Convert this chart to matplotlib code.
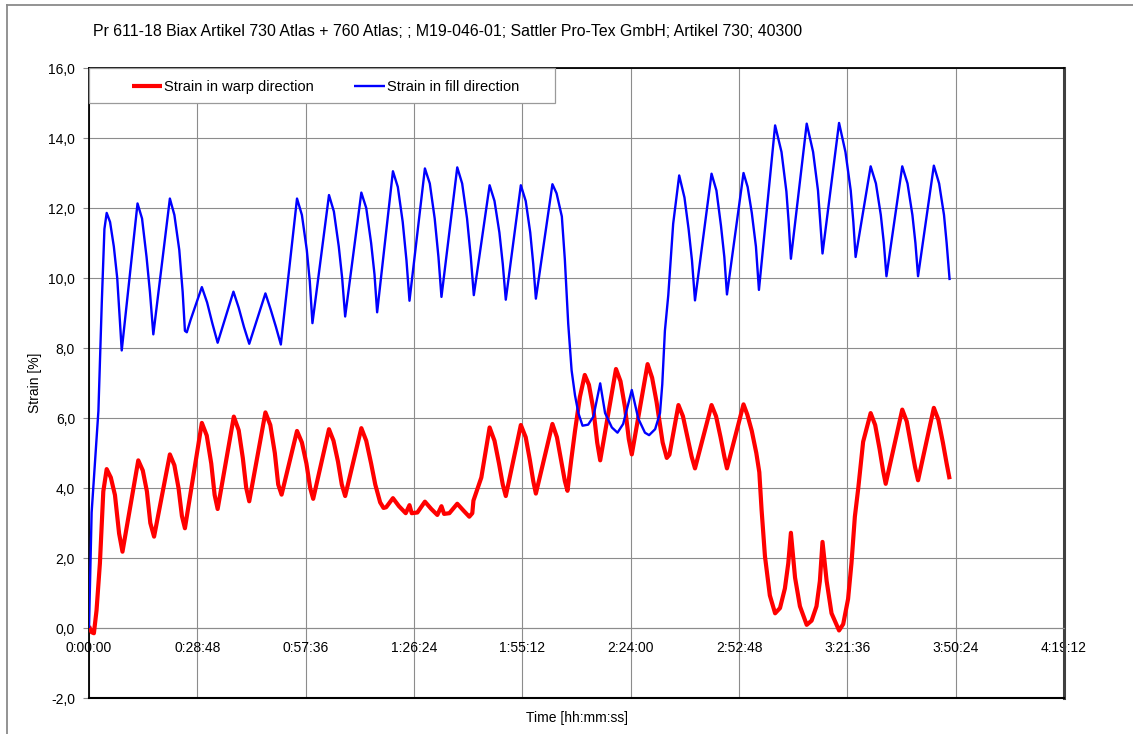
import matplotlib
matplotlib.use("Agg")
import matplotlib.pyplot as plt
from matplotlib.lines import Line2D
from matplotlib.patches import Rectangle

plt.rcParams['font.family'] = ['Liberation Sans', 'DejaVu Sans']

# ---------------- data (time in minutes, strain in %) ----------------
warp_time = [0.0, 0.7, 1.3, 2.0, 2.9, 3.8, 4.7, 5.8, 6.9, 8.0, 8.9,
             13.1, 14.3, 15.4, 16.3, 17.3, 21.5, 22.7, 23.8, 24.7, 25.5,
             30.0, 31.3, 32.5, 33.4, 34.2, 38.5, 39.8, 40.9, 41.8, 42.6,
             46.9, 48.2, 49.4, 50.3, 51.2, 55.3, 56.6, 57.8, 58.8, 59.6,
             63.8, 65.0, 66.2, 67.2, 68.1, 72.4, 73.7, 75.0, 76.1, 77.4, 78.3, 79.0,
             80.8, 82.4, 84.2, 85.2, 85.8, 87.3, 89.3, 91.0, 92.6, 93.7, 94.4, 95.8,
             97.9, 99.6, 101.1, 101.9, 102.2, 104.3, 106.5, 107.8, 109.0, 110.0, 110.8,
             114.8, 116.1, 117.2, 118.1, 118.8, 123.2, 124.4, 125.5, 126.5, 127.2,
             128.2, 129.2, 130.5, 131.8, 132.9, 134.1, 135.1, 135.9,
             140.1, 141.3, 142.5, 143.5, 144.3, 148.5, 149.7, 150.9, 152.5, 153.6, 154.3,
             156.7, 157.9, 159.1, 160.2, 161.1, 165.5, 166.7, 167.9, 168.9, 169.6,
             174.0, 175.0, 176.2, 177.4, 178.2, 178.8, 179.7, 181.0, 182.4,
             183.7, 185.0, 185.9, 186.6, 187.7, 189.0, 190.8,
             192.1, 193.4, 194.3, 195.0, 196.1, 197.4, 199.4,
             200.5, 201.8, 202.7, 203.6, 204.5, 205.8, 207.8,
             209.0, 210.2, 211.1, 211.8, 216.2, 217.4, 218.6, 219.6, 220.4,
             224.6, 225.8, 227.0, 228.0, 228.8]
warp_strain = [0.05, -0.12, -0.15, 0.5, 1.85, 3.9, 4.54, 4.3, 3.8, 2.7, 2.18,
               4.79, 4.5, 3.9, 3.0, 2.61, 4.96, 4.65, 4.0, 3.2, 2.85,
               5.86, 5.5, 4.7, 3.8, 3.40, 6.04, 5.65, 4.85, 4.0, 3.62,
               6.16, 5.8, 5.0, 4.1, 3.81, 5.63, 5.3, 4.7, 4.0, 3.69,
               5.68, 5.35, 4.75, 4.1, 3.77, 5.71, 5.35, 4.7, 4.1, 3.59, 3.43, 3.45,
               3.71, 3.48, 3.28, 3.51, 3.28, 3.30, 3.61, 3.40, 3.23, 3.48, 3.26, 3.28,
               3.55, 3.35, 3.18, 3.28, 3.64, 4.30, 5.73, 5.35, 4.7, 4.1, 3.77,
               5.80, 5.45, 4.8, 4.2, 3.84, 5.83, 5.45, 4.8, 4.2, 3.92,
               4.8, 5.63, 6.6, 7.23, 6.95, 6.24, 5.3, 4.79,
               7.40, 7.05, 6.3, 5.4, 4.96, 7.54, 7.15, 6.45, 5.3, 4.86, 4.95,
               6.37, 6.05, 5.45, 4.9, 4.56, 6.37, 6.05, 5.45, 4.9, 4.56,
               6.39, 6.1, 5.63, 5.0, 4.45, 3.38, 2.05, 0.93, 0.42,
               0.57, 1.13, 1.85, 2.72, 1.44, 0.62, 0.09,
               0.21, 0.62, 1.34, 2.46, 1.34, 0.42, -0.07,
               0.11, 0.83, 1.85, 3.18, 3.99, 5.32, 6.14,
               5.8, 5.1, 4.5, 4.12, 6.24, 5.9, 5.2, 4.6, 4.22,
               6.29, 5.95, 5.3, 4.7, 4.25]

fill_time = [0.0, 0.7, 2.5, 3.4, 4.1, 4.7, 5.6, 6.6, 7.5, 8.7,
             12.9, 14.1, 15.3, 16.2, 17.1, 21.5, 22.7, 24.0, 24.9, 25.5, 26.0, 27.0,
             30.0, 31.4, 32.8, 34.2, 38.4, 39.8, 41.2, 42.6, 46.9, 48.3, 49.7, 51.0,
             55.3, 56.6, 57.9, 58.7, 59.4, 63.8, 65.1, 66.4, 67.3, 68.1,
             72.4, 73.7, 75.0, 75.9, 76.6, 80.8, 82.1, 83.4, 84.4, 85.2,
             89.3, 90.6, 91.9, 92.9, 93.7, 97.9, 99.2, 100.5, 101.5, 102.3,
             106.5, 107.8, 109.1, 110.0, 110.8, 114.8, 116.1, 117.3, 118.1, 118.8,
             123.2, 124.3, 125.7, 126.5, 127.4, 128.3, 129.2, 130.1, 131.2,
             132.7, 134.1, 135.9, 137.2, 139.0, 140.5, 142.0, 144.3,
             146.0, 147.8, 148.9, 150.5, 151.8, 152.4, 153.1, 154.0, 155.3, 156.9,
             158.3, 159.4, 160.3, 161.1, 165.5, 166.8, 168.0, 168.9, 169.6,
             174.0, 175.1, 176.2, 177.3, 178.1, 182.4, 184.1, 185.4, 186.0, 186.6,
             190.8, 192.5, 193.8, 194.4, 195.0, 199.4, 201.1, 202.5, 203.2, 203.8,
             207.8, 209.2, 210.5, 211.3, 212.0, 216.2, 217.6, 218.9, 219.7, 220.4,
             224.6, 226.0, 227.3, 228.0, 228.8]
fill_strain = [0.0, 3.3, 6.2, 9.3, 11.4, 11.86, 11.6, 10.9, 10.0, 7.93,
               12.13, 11.7, 10.6, 9.6, 8.39, 12.27, 11.8, 10.8, 9.6, 8.49, 8.45, 8.8,
               9.74, 9.3, 8.7, 8.15, 9.61, 9.15, 8.6, 8.12, 9.56, 9.1, 8.6, 8.10,
               12.27, 11.8, 10.8, 9.9, 8.71, 12.37, 11.9, 10.9, 10.0, 8.90,
               12.44, 12.0, 11.0, 10.1, 9.02, 13.05, 12.6, 11.6, 10.5, 9.35,
               13.13, 12.7, 11.7, 10.6, 9.46, 13.16, 12.7, 11.7, 10.6, 9.51,
               12.65, 12.2, 11.3, 10.4, 9.38, 12.65, 12.2, 11.3, 10.4, 9.41,
               12.68, 12.42, 11.76, 10.53, 8.69, 7.36, 6.65, 6.14, 5.78,
               5.81, 6.04, 6.99, 6.14, 5.73, 5.58, 5.83, 6.80,
               5.99, 5.58, 5.51, 5.68, 6.14, 6.96, 8.49, 9.51, 11.55, 12.93,
               12.3, 11.4, 10.5, 9.36, 12.98, 12.5, 11.5, 10.6, 9.53,
               13.0, 12.6, 11.86, 10.9, 9.66, 14.36, 13.6, 12.47, 11.6, 10.55,
               14.41, 13.6, 12.5, 11.6, 10.70, 14.43, 13.6, 12.5, 11.6, 10.60,
               13.19, 12.7, 11.8, 11.0, 10.05, 13.19, 12.7, 11.8, 11.0, 10.05,
               13.21, 12.7, 11.8, 11.0, 9.94]

title_text = ("Pr 611-18 Biax Artikel 730 Atlas + 760 Atlas; ; M19-046-01; "
              "Sattler Pro-Tex GmbH; Artikel 730; 40300")
series_names = ["Strain in warp direction", "Strain in fill direction"]
x_tick_seconds = [0, 1728, 3456, 5184, 6912, 8640, 10368, 12096, 13824, 15552]
y_ticks = [-2, 0, 2, 4, 6, 8, 10, 12, 14, 16]

# ---------------- figure ----------------
W, H = 1133, 734
fig = plt.figure(figsize=(W / 100, H / 100), dpi=100)
fig.patch.set_facecolor("white")

# outer chart border
fig.add_artist(Line2D([7 / W, 1.0], [1 - 5 / H, 1 - 5 / H], color="#8a8a8a", lw=1.3,
                      transform=fig.transFigure))
fig.add_artist(Line2D([7 / W, 7 / W], [0.0, 1 - 5 / H], color="#8a8a8a", lw=1.3,
                      transform=fig.transFigure))

L, R, T, B = 89, 1064, 68, 698
PW, PH = R - L, B - T
ax = fig.add_axes([L / W, 1 - B / H, PW / W, PH / H])

ax.plot(warp_time, warp_strain, color="#ff0000", lw=3.0, solid_capstyle="butt",
        solid_joinstyle="round", label=series_names[0], zorder=3)
ax.plot(fill_time, fill_strain, color="#0000ff", lw=1.7, solid_joinstyle="round",
        solid_capstyle="butt", label=series_names[1], zorder=3)

ax.set_xlim(0, x_tick_seconds[-1] / 60)
ax.set_ylim(-2, 16)

ax.set_xticks([s / 60 for s in x_tick_seconds])
ax.set_xticklabels([f"{s // 3600}:{s % 3600 // 60:02d}:{s % 60:02d}" for s in x_tick_seconds])
ax.set_yticks(y_ticks)
ax.set_yticklabels([f"{v:.1f}".replace(".", ",") for v in y_ticks])

ax.grid(True, color="#8c8c8c", lw=0.8, zorder=0)
ax.set_axisbelow(True)

ax.spines["bottom"].set_position(("data", 0))
ax.spines["bottom"].set_color("#8c8c8c")
ax.spines["bottom"].set_linewidth(0.8)
ax.spines["left"].set_color("black")
ax.spines["left"].set_linewidth(1.3)
ax.spines["top"].set_color("black")
ax.spines["top"].set_linewidth(1.3)
ax.spines["right"].set_color("#404040")
ax.spines["right"].set_linewidth(2.2)
ax.plot([0, 1], [0, 0], transform=ax.transAxes, color="black", lw=1.5,
        clip_on=False, zorder=4)

ax.tick_params(axis="x", length=0, pad=9, labelsize=10)
ax.tick_params(axis="y", length=4, width=0.8, color="#8c8c8c", pad=6, labelsize=10,
               direction="out")

ax.set_xlabel("Time [hh:mm:ss]", fontsize=10)
ax.xaxis.set_label_coords(0.5, -(718 - B) / PH)
ax.set_ylabel("Strain [%]", fontsize=10)
ax.yaxis.set_label_coords(-(L - 35) / PW, 0.5)
ax.xaxis.label.set_verticalalignment("center")
ax.yaxis.label.set_verticalalignment("center")

fig.text(93 / W, 1 - 32 / H, title_text, fontsize=11.4, ha="left", va="center")

# legend box (frame) and entries
ax.add_patch(Rectangle((0, 1 - 35 / PH), 466 / PW, 35 / PH, transform=ax.transAxes,
                       facecolor="white", edgecolor="#9a9a9a", lw=0.9, zorder=5,
                       clip_on=False))
leg = ax.legend(loc="center left", bbox_to_anchor=((131.5 - L) / PW, 1 - (87 - T) / PH),
                ncol=2, frameon=False, fontsize=10.5, borderaxespad=0, borderpad=0,
                handlelength=2.1, handletextpad=0.15, columnspacing=2.75)
leg.set_zorder(6)

fig.savefig("out.png", dpi=100)
